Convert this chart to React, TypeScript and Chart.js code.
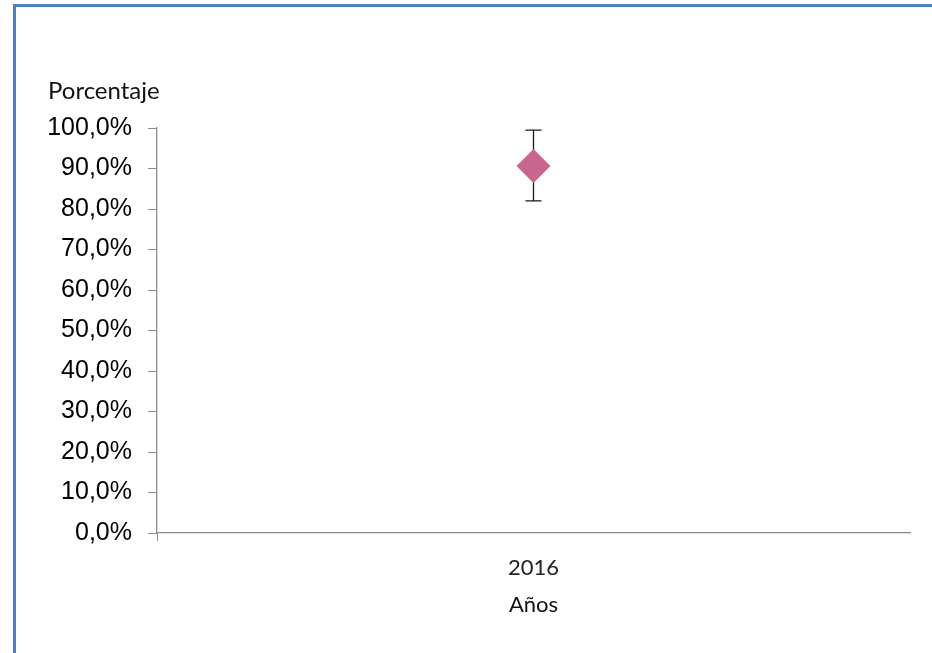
import React, { useEffect, useRef } from "react";
import { Chart, registerables } from "chart.js";

Chart.register(...registerables);

const categories = ["2016"];
const values = [90.6];
const errorUpper = [99.5];
const errorLower = [82.0];
const yTicks = [0, 10, 20, 30, 40, 50, 60, 70, 80, 90, 100];
const yTitle = "Porcentaje";
const xTitle = "Años";

const errorBarPlugin = {
  id: "errorBars",
  beforeDatasetsDraw(chart: any) {
    const { ctx, scales } = chart;
    const xs = scales.x;
    const ys = scales.y;
    ctx.save();
    ctx.strokeStyle = "#1a1a1a";
    ctx.lineWidth = 1.3;
    categories.forEach((c, i) => {
      const x = xs.getPixelForValue(i);
      const yt = ys.getPixelForValue(errorUpper[i]);
      const yb = ys.getPixelForValue(errorLower[i]);
      ctx.beginPath();
      ctx.moveTo(x, yt);
      ctx.lineTo(x, yb);
      ctx.moveTo(x - 8, yt);
      ctx.lineTo(x + 8, yt);
      ctx.moveTo(x - 8, yb);
      ctx.lineTo(x + 8, yb);
      ctx.stroke();
    });
    ctx.restore();
  },
  afterDraw(chart: any) {
    const { ctx, chartArea } = chart;
    ctx.save();
    ctx.fillStyle = "#111";
    ctx.textBaseline = "middle";
    ctx.textAlign = "left";
    ctx.font = "24px Lato, 'Open Sans', sans-serif";
    ctx.fillText(yTitle, 48, 91);
    ctx.textAlign = "center";
    ctx.font = "22px Lato, 'Open Sans', sans-serif";
    ctx.fillText(xTitle, (chartArea.left + chartArea.right) / 2, 605);
    ctx.restore();
  },
};

export default function App() {
  const ref = useRef<HTMLCanvasElement>(null);
  useEffect(() => {
    if (!ref.current) return;
    const chart = new Chart(ref.current, {
      type: "line",
      data: {
        labels: categories,
        datasets: [
          {
            data: values,
            showLine: false,
            pointStyle: "rectRot",
            pointRadius: 17,
            pointHoverRadius: 17,
            backgroundColor: "#C9668F",
            borderColor: "#C9668F",
            borderWidth: 0,
          },
        ],
      },
      options: {
        animation: false,
        responsive: false,
        events: [],
        layout: { padding: { left: 0, right: 22, top: 128, bottom: 0 } },
        plugins: { legend: { display: false }, tooltip: { enabled: false } },
        scales: {
          x: {
            type: "category",
            offset: true,
            afterFit(scale: any) {
              scale.height = 120;
            },
            grid: {
              offset: true,
              drawOnChartArea: false,
              drawTicks: true,
              tickLength: 8,
              color: (ctx: any) => (ctx.index === 0 ? "#8c8c8c" : "rgba(0,0,0,0)"),
            },
            border: { color: "#8c8c8c", width: 1.3 },
            ticks: {
              padding: 14,
              color: "#222",
              font: { family: "Lato, 'Open Sans', sans-serif", size: 22 },
            },
          },
          y: {
            min: 0,
            max: 100,
            afterFit(scale: any) {
              scale.width = 157;
            },
            afterBuildTicks(scale: any) {
              scale.ticks = yTicks.map((v) => ({ value: v }));
            },
            grid: {
              drawOnChartArea: false,
              drawTicks: true,
              tickLength: 9,
              color: "#8c8c8c",
            },
            border: { color: "#8c8c8c", width: 1.3 },
            ticks: {
              padding: 16,
              color: "#000",
              font: { family: "'Liberation Sans', Arial, sans-serif", size: 25 },
              callback: (v: any) => Number(v).toFixed(1).replace(".", ",") + "%",
            },
          },
        },
      },
      plugins: [errorBarPlugin],
    });
    return () => chart.destroy();
  }, []);

  return (
    <div style={{ position: "absolute", left: 0, top: 0, width: 932, height: 653, overflow: "hidden", background: "#fff" }}>
      <div
        style={{
          position: "absolute",
          left: 13,
          top: 4,
          width: 1000,
          height: 800,
          border: "3px solid #4F81C4",
          boxSizing: "border-box",
        }}
      />
      <canvas ref={ref} width={932} height={653} style={{ position: "absolute", left: 0, top: 0 }} />
    </div>
  );
}
